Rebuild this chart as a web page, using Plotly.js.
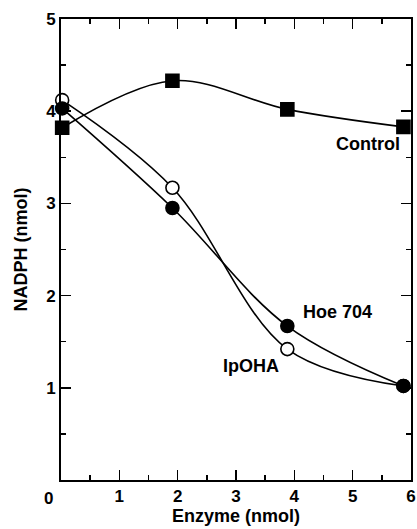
<!DOCTYPE html>
<html><head><meta charset="utf-8">
<script src="https://cdn.plot.ly/plotly-3.0.1.min.js"></script>
<style>html,body{margin:0;padding:0;background:#fff;}#chart{width:417px;height:529px;}</style>
</head><body><div id="chart"></div>
<script>
var enzyme = [0.02, 1.91, 3.88, 5.87];
var control = [3.82, 4.33, 4.02, 3.83];
var hoe704 = [4.03, 2.95, 1.67, 1.02];
var ipoha = [4.12, 3.17, 1.42, 1.02];
var xTicks = [0, 1, 2, 3, 4, 5, 6];
var xTickText = ['', '1', '2', '3', '4', '5', '6'];
var yTicks = [1, 2, 3, 4, 5];

var fam = 'Liberation Sans, Arial, sans-serif';
var fnt = {family: fam, size: 17, color: '#000'};
var tfnt = {family: fam, size: 18, color: '#000'};
function tr(y, fill, name) {
  return {x: enzyme, y: y, name: name, mode: 'lines+markers', type: 'scatter',
    line: {shape: 'spline', smoothing: 1, color: '#000', width: 1.6},
    marker: {symbol: fill === 'square' ? 'square' : 'circle', size: 13,
      color: fill === 'open' ? '#fff' : '#000', line: {color: '#000', width: 1.6}},
    cliponaxis: false};
}
var data = [tr(control, 'square', 'Control'), tr(ipoha, 'open', 'IpOHA'), tr(hoe704, 'filled', 'Hoe 704')];

function bold(a) { return a.map(function (t) { return t === '' ? '' : '<b>' + t + '</b>'; }); }

var layout = {
  width: 417, height: 529, showlegend: false,
  margin: {l: 61, r: 6, t: 19, b: 49},
  paper_bgcolor: '#fff', plot_bgcolor: '#fff',
  font: fnt,
  xaxis: {range: [0, 6], tickvals: xTicks, ticktext: bold(xTickText),
    ticks: 'inside', ticklen: 10, tickwidth: 1.5, tickcolor: '#000',
    minor: {dtick: 0.5, tick0: 0, ticks: 'inside', ticklen: 5, tickwidth: 1.5, tickcolor: '#000'},
    showline: true, linewidth: 2, linecolor: '#000', mirror: 'ticks', showgrid: false, zeroline: false,
    tickfont: fnt,
    title: {text: '<b>Enzyme (nmol)</b>', font: tfnt, standoff: 3}},
  yaxis: {range: [0, 5], tickvals: yTicks, ticktext: bold(yTicks.map(String)),
    ticks: 'inside', ticklen: 10, tickwidth: 1.5, tickcolor: '#000',
    minor: {dtick: 0.5, tick0: 0, ticks: 'inside', ticklen: 5, tickwidth: 1.5, tickcolor: '#000'},
    showline: true, linewidth: 2, linecolor: '#000', mirror: 'ticks', showgrid: false, zeroline: false,
    tickfont: fnt,
    title: {text: '<b>NADPH (nmol)</b>', font: tfnt, standoff: 14}},
  annotations: [
    {x: 0, y: 0, xref: 'x', yref: 'y', text: '<b>0</b>', showarrow: false, xshift: -13, yshift: -18, font: fnt},
    {x: 5.87, y: 3.83, xref: 'x', yref: 'y', text: '<b>Control</b>', showarrow: false, xanchor: 'right', xshift: -1, yshift: -17, font: tfnt},
    {x: 3.88, y: 1.67, xref: 'x', yref: 'y', text: '<b>Hoe 704</b>', showarrow: false, xanchor: 'left', xshift: 14, yshift: 14, font: tfnt},
    {x: 3.88, y: 1.42, xref: 'x', yref: 'y', text: '<b>IpOHA</b>', showarrow: false, xanchor: 'right', xshift: -6, yshift: -17, font: tfnt}
  ]
};
Plotly.newPlot('chart', data, layout, {displayModeBar: false, staticPlot: true});
</script></body></html>
